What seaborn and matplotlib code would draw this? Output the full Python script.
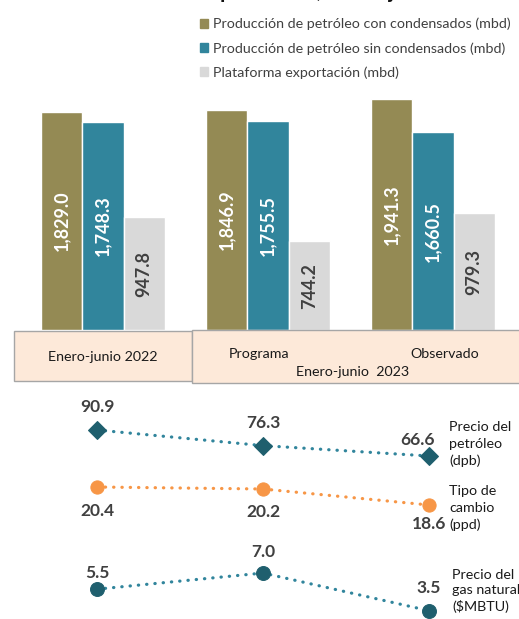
import matplotlib.pyplot as plt
import matplotlib.patches as mpatches
import seaborn as sns
import pandas as pd

# data
periodos = ['Enero-junio 2022', 'Programa', 'Observado']
series = ['Producción de petróleo con condensados (mbd)',
          'Producción de petróleo sin condensados (mbd)',
          'Plataforma exportación (mbd)']
con_condensados = [1829.0, 1846.9, 1941.3]
sin_condensados = [1748.3, 1755.5, 1660.5]
exportacion = [947.8, 744.2, 979.3]

precio_petroleo = [90.9, 76.3, 66.6]
tipo_cambio = [20.4, 20.2, 18.6]
precio_gas = [5.5, 7.0, 3.5]
nombres_lineas = ['Precio del\npetróleo\n(dpb)', 'Tipo de\ncambio\n(ppd)',
                  'Precio del\ngas natural\n($MBTU)']

colores_barras = ['#948A54', '#31859C', '#D9D9D9']
W, H = 519, 619


def px(x, y):
    return x / W, 1 - y / H


sns.set_theme(style='white')
plt.rcParams['font.family'] = ['Lato', 'DejaVu Sans']

fig = plt.figure(figsize=(W / 100, H / 100), dpi=100)

# cut-off title at the very top
fig.text(*px(265, -2), 'Gráfica 1. Indicadores petroleros, enero-junio de 2023',
         ha='center', va='baseline', fontsize=15, fontweight='bold', color='#111111')

# bar chart
df = pd.DataFrame({
    'periodo': periodos * 3,
    'serie': [series[0]] * 3 + [series[1]] * 3 + [series[2]] * 3,
    'valor': con_condensados + sin_condensados + exportacion,
})
ax = fig.add_axes([20.5 / W, (H - 330) / H, 495 / W, 238 / H])
sns.barplot(data=df, x='periodo', y='valor', hue='serie', order=periodos,
            hue_order=series, palette=colores_barras, width=0.75,
            saturation=1, ax=ax, legend=False)
ax.set_xlim(-0.5, 2.5)
ax.set_ylim(0, 2000)
ax.set_axis_off()
for cont, color in zip(ax.containers, ['white', 'white', '#404040']):
    ax.bar_label(cont, labels=[f'{v:,.1f}' for v in cont.datavalues],
                 label_type='center', rotation=90, color=color,
                 fontsize=13, fontweight='bold')

# category boxes
for (x0, y0, x1, y1) in [(14, 331, 192, 381), (192, 330, 525, 383)]:
    fig.patches.append(mpatches.Rectangle(px(x0, y1), (x1 - x0) / W, (y1 - y0) / H,
                                          transform=fig.transFigure, facecolor='#FDE9D9',
                                          edgecolor='#A6A6A6', linewidth=1))
fig.text(*px(103, 357), 'Enero-junio 2022', ha='center', va='center', fontsize=10.3, color='#1a1a1a')
fig.text(*px(259, 354), 'Programa', ha='center', va='center', fontsize=10.3, color='#1a1a1a')
fig.text(*px(445, 354), 'Observado', ha='center', va='center', fontsize=10.3, color='#1a1a1a')
fig.text(*px(353, 372), 'Enero-junio  2023', ha='center', va='center', fontsize=10.3, color='#1a1a1a')

# legend
handles = [mpatches.Patch(color=c) for c in colores_barras]
fig.legend(handles, series, loc='upper left', bbox_to_anchor=px(194, 12),
           frameon=False, fontsize=10.3, handlelength=0.58, handleheight=0.58,
           handletextpad=0.35, labelspacing=0.82, borderaxespad=0,
           labelcolor='#404040')

# line panels: (values, ylim, pixel top, pixel bottom, marker, size, marker color, line color, label offsets)
paneles = [
    (precio_petroleo, (57.25, 100.25), 420, 466, 'D', 9, '#1F5F6E', '#31859C',
     [(0, 16.5), (0, 16.5), (-8, 11.5)]),
    (tipo_cambio, (17.6, 21.4), 477, 515, 'o', 9.5, '#F79646', '#F79646',
     [(0, -17), (0, -16.5), (0, -13.5)]),
    (precio_gas, (2.73, 7.93), 563, 619, 'o', 10, '#1F5F6E', '#31859C',
     [(0, 11.5), (0, 15), (0, 16)]),
]
xs = [0, 1, 2]
for vals, ylim, ptop, pbot, mk, ms, mcol, lcol, offs in paneles:
    axl = fig.add_axes([14 / W, (H - pbot) / H, 498 / W, (pbot - ptop) / H])
    sns.lineplot(x=xs, y=vals, ax=axl, color=lcol, linewidth=2.3,
                 linestyle=(0, (0.1, 2.5)), dash_capstyle='round',
                 marker=mk, markersize=ms, markerfacecolor=mcol,
                 markeredgecolor=mcol)
    axl.set_xlim(-0.5, 2.5)
    axl.set_ylim(*ylim)
    axl.set_axis_off()
    for x, v, off in zip(xs, vals, offs):
        axl.annotate(f'{v:.1f}', (x, v), xytext=off, textcoords='offset points',
                     ha='center', va='center', fontsize=12.5, fontweight='bold',
                     color='#404040', annotation_clip=False)

fig.text(*px(449, 421), nombres_lineas[0], ha='left', va='top', fontsize=10.3,
         color='#1a1a1a', linespacing=1.45)
fig.text(*px(449, 485), nombres_lineas[1], ha='left', va='top', fontsize=10.3,
         color='#1a1a1a', linespacing=1.45)
fig.text(*px(452, 569), nombres_lineas[2], ha='left', va='top', fontsize=10.3,
         color='#1a1a1a', linespacing=1.35)

fig.savefig('out.png', dpi=100)
plt.close(fig)
